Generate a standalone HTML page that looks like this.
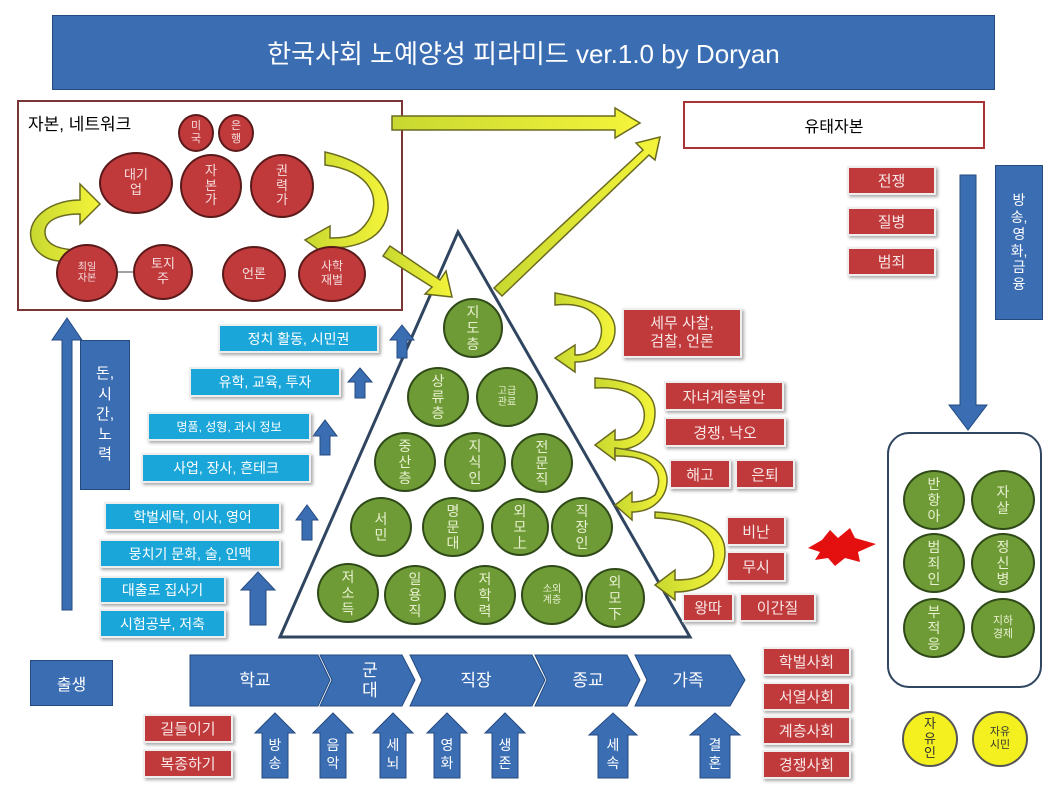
<!DOCTYPE html>
<html><head><meta charset="utf-8"><style>
body{margin:0;width:1048px;height:792px;background:#fff;position:relative;overflow:hidden;font-family:"Liberation Sans","Noto Sans CJK KR",sans-serif}
.a{position:absolute;box-sizing:border-box}
.c{position:absolute;border-radius:50%;display:flex;align-items:center;justify-content:center;text-align:center;box-sizing:border-box;line-height:1.15}
.g{background:#6f9b36;border:2px solid #2f4a18;color:#e8f0d0;font-size:14px}
.r{background:#c0393b;border:2px solid #5a1a1a;color:#f6dede;font-size:13px}
.y{background:#f4f020;border:2px solid #555;color:#333;font-size:13px}
.rb{position:absolute;background:#c0393b;color:#f8e6e6;font-size:15px;display:flex;align-items:center;justify-content:center;box-shadow:2px 2px 3px #aaa;border:2px solid #eee;box-sizing:border-box}
.cb{position:absolute;background:#1aa6d9;color:#fff;font-size:14px;display:flex;align-items:center;justify-content:center;box-shadow:2px 2px 3px #aaa;border:2px solid #eee;box-sizing:border-box}
.bb{position:absolute;background:#3b6db3;color:#fff;display:flex;align-items:center;justify-content:center;text-align:center;box-sizing:border-box;border:1px solid #244a80}
</style></head><body>
<div class="bb" style="left:52px;top:15px;width:943px;height:75px;font-size:26px">한국사회 노예양성 피라미드 ver.1.0 by Doryan</div>
<div class="a" style="left:17px;top:100px;width:386px;height:211px;border:2px solid #7a3535"></div>
<div class="a" style="left:28px;top:110px;font-size:17px">자본, 네트워크</div>
<div class="a" style="left:683px;top:101px;width:302px;height:48px;border:2px solid #a33;display:flex;align-items:center;justify-content:center;font-size:16px">유태자본</div>

<svg class="a" style="left:0;top:0" width="1048" height="792">
<defs><linearGradient id="yg" x1="0" x2="1"><stop offset="0" stop-color="#c8d830"/><stop offset="1" stop-color="#f4f43a"/></linearGradient></defs>
<polygon points="458,232 280,637 690,637" fill="#fff" stroke="#2f4560" stroke-width="3"/>
<g fill="url(#yg)" stroke="#6a6a20" stroke-width="1.5">
<polygon points="392,116 615,116 615,108 640,123 615,138 615,130 392,130"/>
<polygon points="383,256 390,246 440,280 446,271 452,297 425,294 432,287"/>
<polygon points="502,296 494,288 643,150 636,143 660,137 655,160 649,155"/>
<path d="M80,200 C45,200 20,225 35,248 C45,262 60,262 80,262 L80,250 C60,250 45,245 45,232 C45,220 60,214 80,214 L80,224 L100,204 L80,184 Z"/>
<path d="M325,165 C370,170 385,200 365,225 C355,238 340,238 330,238 L330,226 L305,240 L330,258 L330,248 C355,248 385,240 388,210 C390,180 360,160 325,152 Z"/>
<path d="M555,305 C600,300 610,330 595,348 C585,355 580,355 575,355 L575,345 L555,358 L575,372 L575,362 C595,362 615,350 615,330 C615,310 595,300 555,293 Z"/>
<path d="M595,388 C640,385 652,410 640,430 C632,440 620,440 615,440 L615,430 L595,445 L615,460 L615,450 C640,450 655,435 655,412 C655,392 635,380 595,378 Z"/>
<path d="M615,456 C655,455 665,475 655,495 C648,500 640,502 632,502 L632,492 L615,505 L632,520 L632,512 C655,512 668,495 667,478 C665,460 650,452 615,448 Z"/>
<path d="M655,518 C700,520 720,540 712,565 C705,578 690,580 675,580 L675,570 L655,585 L675,600 L675,592 C705,592 725,575 725,552 C725,530 705,515 655,512 Z"/>
</g>
<polygon points="808,548 822,540 830,530 838,538 850,528 855,538 876,544 858,552 860,562 845,558 835,566 828,558 815,560 820,552" fill="#e41010"/>
<g fill="#3b6db3" stroke="#244a80">
<polygon points="960,175 976,175 976,405 987,405 968,430 949,405 960,405"/>
<polygon points="62,610 72,610 72,340 82,340 67,318 52,340 62,340"/>
<polygon points="397,358 407,358 407,340 414,340 402,325 390,340 397,340"/>
<polygon points="355,398 365,398 365,382 372,382 360,368 348,382 355,382"/>
<polygon points="320,455 330,455 330,436 337,436 325,420 313,436 320,436"/>
<polygon points="302,540 312,540 312,520 318,520 307,505 296,520 302,520"/>
<polygon points="250,625 266,625 266,590 275,590 258,572 241,590 250,590"/>
<polygon points="190,655 318,655 330,680 318,706 190,706"/>
<polygon points="320,655 402,655 415,680 402,706 320,706 332,680"/>
<polygon points="410,655 532,655 545,680 532,706 410,706 422,680"/>
<polygon points="535,655 627,655 640,680 627,706 535,706 547,680"/>
<polygon points="635,655 730,655 745,680 730,706 635,706 647,680"/>
<polygon points="262,778 288,778 288,733 295,733 275,713 255,733 262,733"/>
<polygon points="320,778 346,778 346,733 353,733 333,713 313,733 320,733"/>
<polygon points="380,778 406,778 406,733 413,733 393,713 373,733 380,733"/>
<polygon points="434,778 460,778 460,733 467,733 447,713 427,733 434,733"/>
<polygon points="492,778 518,778 518,733 525,733 505,713 485,733 492,733"/>
<polygon points="598,778 628,778 628,735 637,735 613,713 589,735 598,735"/>
<polygon points="700,778 730,778 730,735 740,735 715,713 690,735 700,735"/>
</g>
<line x1="118" y1="272" x2="133" y2="272" stroke="#444"/>
<g fill="#fff" font-size="17" text-anchor="middle" font-family="Liberation Sans,Noto Sans CJK KR,sans-serif">
<text x="255" y="686">학교</text><text x="370" y="676">군</text><text x="370" y="696">대</text>
<text x="476" y="686">직장</text><text x="588" y="686">종교</text><text x="688" y="686">가족</text>
<g font-size="14"><text x="275" y="750">방</text><text x="275" y="768">송</text><text x="333" y="750">음</text><text x="333" y="768">악</text>
<text x="393" y="750">세</text><text x="393" y="768">뇌</text><text x="447" y="750">영</text><text x="447" y="768">화</text>
<text x="505" y="750">생</text><text x="505" y="768">존</text><text x="613" y="750">세</text><text x="613" y="768">속</text>
<text x="715" y="750">결</text><text x="715" y="768">혼</text></g>
</g>
</svg>

<div class="c r" style="left:178px;top:114px;width:36px;height:38px;font-size:11px">미<br>국</div>
<div class="c r" style="left:218px;top:114px;width:36px;height:38px;font-size:11px">은<br>행</div>
<div class="c r" style="left:99px;top:152px;width:74px;height:62px">대기<br>업</div>
<div class="c r" style="left:180px;top:154px;width:62px;height:64px">자<br>본<br>가</div>
<div class="c r" style="left:250px;top:154px;width:64px;height:64px">권<br>력<br>가</div>
<div class="c r" style="left:56px;top:244px;width:62px;height:58px;font-size:10px">최일<br>자본</div>
<div class="c r" style="left:133px;top:244px;width:60px;height:56px">토지<br>주</div>
<div class="c r" style="left:222px;top:246px;width:64px;height:56px">언론</div>
<div class="c r" style="left:298px;top:246px;width:68px;height:56px;font-size:12px">사학<br>재벌</div>

<div class="rb" style="left:847px;top:166px;width:89px;height:29px">전쟁</div>
<div class="rb" style="left:847px;top:207px;width:89px;height:29px">질병</div>
<div class="rb" style="left:847px;top:247px;width:89px;height:29px">범죄</div>
<div class="bb" style="left:995px;top:165px;width:48px;height:155px;font-size:14px;line-height:1.2">방<br>송,<br>영<br>화,<br>금<br>융</div>

<div class="a" style="left:887px;top:432px;width:155px;height:256px;border:2px solid #2f4560;border-radius:22px"></div>
<div class="c g" style="left:903px;top:470px;width:62px;height:60px">반<br>항<br>아</div>
<div class="c g" style="left:971px;top:470px;width:64px;height:60px">자<br>살</div>
<div class="c g" style="left:903px;top:533px;width:62px;height:60px">범<br>죄<br>인</div>
<div class="c g" style="left:971px;top:533px;width:64px;height:60px">정<br>신<br>병</div>
<div class="c g" style="left:903px;top:598px;width:62px;height:60px">부<br>적<br>응</div>
<div class="c g" style="left:971px;top:598px;width:64px;height:60px;font-size:11px">지하<br>경제</div>
<div class="c y" style="left:902px;top:711px;width:56px;height:56px">자<br>유<br>인</div>
<div class="c y" style="left:972px;top:711px;width:56px;height:56px;font-size:11px">자유<br>시민</div>

<div class="c g" style="left:443px;top:298px;width:60px;height:60px">지<br>도<br>층</div>
<div class="c g" style="left:407px;top:367px;width:62px;height:60px">상<br>류<br>층</div>
<div class="c g" style="left:476px;top:367px;width:62px;height:60px;font-size:10px">고급<br>관료</div>
<div class="c g" style="left:374px;top:432px;width:62px;height:60px">중<br>산<br>층</div>
<div class="c g" style="left:444px;top:432px;width:62px;height:60px">지<br>식<br>인</div>
<div class="c g" style="left:511px;top:433px;width:62px;height:60px">전<br>문<br>직</div>
<div class="c g" style="left:350px;top:497px;width:62px;height:60px">서<br>민</div>
<div class="c g" style="left:422px;top:497px;width:62px;height:60px">명<br>문<br>대</div>
<div class="c g" style="left:491px;top:498px;width:58px;height:58px">외<br>모<br>上</div>
<div class="c g" style="left:551px;top:497px;width:62px;height:60px">직<br>장<br>인</div>
<div class="c g" style="left:317px;top:563px;width:62px;height:60px">저<br>소<br>득</div>
<div class="c g" style="left:384px;top:565px;width:62px;height:60px">일<br>용<br>직</div>
<div class="c g" style="left:454px;top:565px;width:62px;height:60px">저<br>학<br>력</div>
<div class="c g" style="left:521px;top:565px;width:62px;height:60px;font-size:10px">소외<br>계층</div>
<div class="c g" style="left:585px;top:568px;width:60px;height:60px">외<br>모<br>下</div>

<div class="rb" style="left:622px;top:308px;width:120px;height:50px;line-height:1.2">세무 사찰,<br>검찰, 언론</div>
<div class="rb" style="left:664px;top:381px;width:120px;height:30px">자녀계층불안</div>
<div class="rb" style="left:664px;top:417px;width:122px;height:30px">경쟁, 낙오</div>
<div class="rb" style="left:669px;top:459px;width:62px;height:30px">해고</div>
<div class="rb" style="left:735px;top:459px;width:60px;height:30px">은퇴</div>
<div class="rb" style="left:726px;top:516px;width:60px;height:30px">비난</div>
<div class="rb" style="left:726px;top:551px;width:60px;height:31px">무시</div>
<div class="rb" style="left:682px;top:593px;width:52px;height:29px">왕따</div>
<div class="rb" style="left:739px;top:593px;width:77px;height:29px">이간질</div>

<div class="cb" style="left:218px;top:324px;width:161px;height:29px">정치 활동, 시민권</div>
<div class="cb" style="left:189px;top:367px;width:152px;height:30px">유학, 교육, 투자</div>
<div class="cb" style="left:147px;top:412px;width:164px;height:29px;font-size:12px">명품, 성형, 과시 정보</div>
<div class="cb" style="left:141px;top:453px;width:170px;height:30px">사업, 장사, 흔테크</div>
<div class="cb" style="left:104px;top:502px;width:177px;height:29px">학벌세탁, 이사, 영어</div>
<div class="cb" style="left:99px;top:539px;width:182px;height:29px">뭉치기 문화, 술, 인맥</div>
<div class="cb" style="left:99px;top:576px;width:127px;height:28px">대출로 집사기</div>
<div class="cb" style="left:99px;top:609px;width:127px;height:29px">시험공부, 저축</div>

<div class="bb" style="left:80px;top:340px;width:50px;height:150px;font-size:15px;line-height:1.35">돈,<br>시<br>간,<br>노<br>력</div>
<div class="bb" style="left:30px;top:660px;width:83px;height:46px;font-size:16px">출생</div>

<div class="rb" style="left:762px;top:647px;width:89px;height:29px">학벌사회</div>
<div class="rb" style="left:762px;top:682px;width:89px;height:29px">서열사회</div>
<div class="rb" style="left:762px;top:716px;width:89px;height:29px">계층사회</div>
<div class="rb" style="left:762px;top:750px;width:89px;height:29px">경쟁사회</div>
<div class="rb" style="left:143px;top:714px;width:90px;height:29px">길들이기</div>
<div class="rb" style="left:143px;top:749px;width:90px;height:29px">복종하기</div>
</body></html>
